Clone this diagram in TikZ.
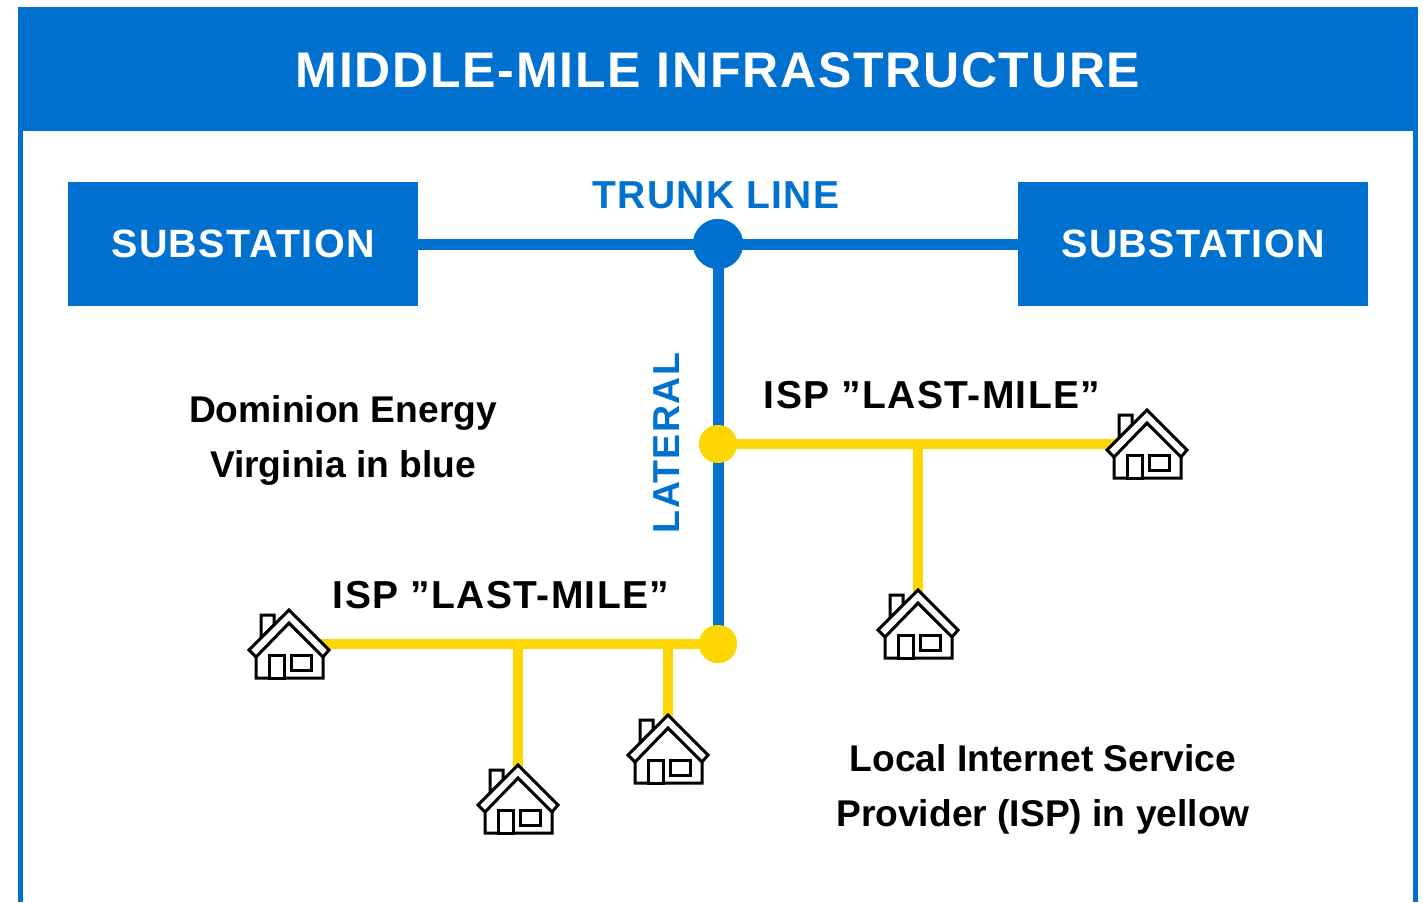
\documentclass[tikz,border=0pt]{standalone}
\usepackage{fontspec}
\setmainfont{Liberation Sans}
\newfontfamily\titlefont[LetterSpace=3.5]{Liberation Sans}
\definecolor{ddblue}{HTML}{0071CE}
\definecolor{ddyellow}{HTML}{FFD700}
\tikzset{
  trunkline/.style={draw=ddblue,line width=11pt},
  ispline/.style={draw=ddyellow,line width=10pt},
  subbox/.style={fill=ddblue,text=white,minimum width=350pt,minimum height=124pt,inner sep=0pt,font=\titlefont\bfseries\fontsize{39.5}{39.5}\selectfont},
  bluehub/.style={circle,fill=ddblue,minimum size=50pt,inner sep=0pt},
  yellowhub/.style={circle,fill=ddyellow,minimum size=38pt,inner sep=0pt},
  bluelabel/.style={text=ddblue,inner sep=0pt,font=\titlefont\bfseries\fontsize{39}{39}\selectfont},
  lateralstyle/.style={text=ddblue,inner sep=0pt,font=\titlefont\bfseries\fontsize{37.5}{37.5}\selectfont},
  isplabel/.style={text=black,inner sep=0pt,font=\titlefont\bfseries\fontsize{39}{39}\selectfont},
  notelabel/.style={text=black,inner sep=0pt,align=center,font=\bfseries\fontsize{37.2}{55}\selectfont},
  houseline/.style={draw=black,line width=3pt,line join=miter,fill=white},
  pics/house/.style={code={
    \draw[houseline] (-28,28) -- (-28,5) -- (-15,5) -- (-15,15) -- cycle;
    \draw[houseline] (-33,46) -- (-33,68) -- (34,68) -- (34,46) -- (0,13) -- cycle;
    \draw[houseline] (0,0) -- (40,40) -- (34,47) -- (0,13) -- (-33,47) -- (-40,40) -- cycle;
    \draw[houseline] (-20,45) rectangle (-5,68);
    \draw[houseline] (2,45) rectangle (22,60);
  }}
}
\begin{document}
\begin{tikzpicture}[x=1pt,y=-1pt]
\useasboundingbox (0,0) rectangle (1423,902);
\fill[ddblue] (18,7) rectangle (1418,131);
\fill[ddblue] (18,131) rectangle (23,902);
\fill[ddblue] (1413,131) rectangle (1418,902);
\node[text=white,inner sep=0pt,font=\titlefont\bfseries\fontsize{50}{50}\selectfont] (title) at (718,70) {MIDDLE-MILE INFRASTRUCTURE};
\node[subbox] (subL) at (243,244) {SUBSTATION};
\node[subbox] (subR) at (1193,244) {SUBSTATION};
\node[bluehub] (hub) at (718,244) {};
\node[yellowhub] (ispA) at (718,444) {};
\node[yellowhub] (ispB) at (718,644) {};
\coordinate (jA) at (918,444);
\coordinate (jB) at (518,644);
\coordinate (jC) at (668,644);
\coordinate (hA) at (1147,410);
\coordinate (hB) at (918,590);
\coordinate (hC) at (289,610);
\coordinate (hD) at (518,765);
\coordinate (hE) at (668,715);
\coordinate (hAe) at (1120,444);
\coordinate (hCe) at (316,644);
\coordinate (hBe) at (918,600);
\coordinate (hDe) at (518,775);
\coordinate (hEe) at (668,725);
\draw[trunkline] (subL.east) -- (subR.west);
\draw[trunkline] (hub.center) -- (ispB.center);
\draw[ispline] (ispA.center) -- (hAe);
\draw[ispline] (jA) -- (hBe);
\draw[ispline] (ispB.center) -- (hCe);
\draw[ispline] (jB) -- (hDe);
\draw[ispline] (jC) -- (hEe);
\node[bluehub] at (hub) {};
\node[yellowhub] at (ispA) {};
\node[yellowhub] at (ispB) {};
\pic at (hA) {house};
\pic at (hB) {house};
\pic at (hC) {house};
\pic at (hD) {house};
\pic at (hE) {house};
\node[bluelabel] (trunk) at (716,195) {TRUNK LINE};
\node[lateralstyle,rotate=90] (lateral) at (667,443) {LATERAL};
\node[isplabel] (lastA) at (932,395) {ISP ”LAST-MILE”};
\node[isplabel] (lastB) at (501,595) {ISP ”LAST-MILE”};
\node[notelabel] (noteL) at (343,440) {Dominion Energy\\Virginia in blue};
\node[notelabel] (noteR) at (1043,789) {Local Internet Service\\Provider (ISP) in yellow};
\end{tikzpicture}
\end{document}
